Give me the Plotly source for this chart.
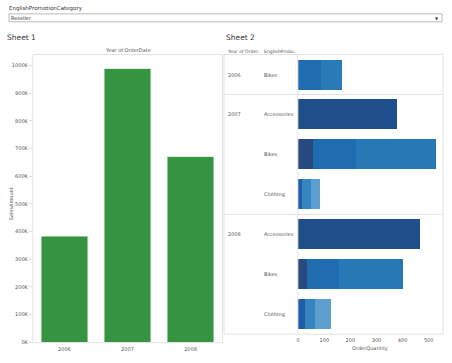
import plotly.graph_objects as go

# ---- data ----
years = ["2006", "2007", "2008"]
sales_amount = [383000, 989000, 671000]
sales_ticks = [0, 100000, 200000, 300000, 400000, 500000, 600000, 700000, 800000, 900000, 1000000]
sales_tick_labels = ["0K", "100K", "200K", "300K", "400K", "500K", "600K", "700K", "800K", "900K", "1000K"]

row_years = ["2006", "2007", "", "", "2008", "", ""]
row_categories = ["Bikes", "Accessories", "Bikes", "Clothing", "Accessories", "Bikes", "Clothing"]
qty_seg1 = [86, 379, 58, 15, 468, 35, 25]
qty_seg2 = [83, 0, 165, 34, 0, 123, 38]
qty_seg3 = [0, 0, 306, 34, 0, 242, 63]
qty_ticks = [0, 100, 200, 300, 400, 500]

# ---- styles ----
W, H = 452, 363
def px(x): return x / W
def py(y): return 1 - y / H

seg_colors = [
    ["#1f6db0", "#1f4f8a", "#27497e", "#1f5ea6", "#1f4f8a", "#27497e", "#1f5ea6"],
    ["#2a7ab8", "#1f4f8a", "#1f6db0", "#3585c1", "#1f4f8a", "#1f6db0", "#3585c1"],
    ["#2a7ab8", "#1f4f8a", "#2878b6", "#5c9fd0", "#1f4f8a", "#2878b6", "#5c9fd0"],
]
small = dict(family="DejaVu Sans", size=5, color="#555555")
rows = list(range(len(row_categories)))

fig = go.Figure()

fig.add_trace(go.Bar(
    x=years, y=sales_amount, xaxis="x", yaxis="y",
    marker=dict(color="#34943f", line=dict(color="#c8e6c9", width=0.6)),
    hoverinfo="x+y", showlegend=False,
))

for segs, cols in zip([qty_seg1, qty_seg2, qty_seg3], seg_colors):
    fig.add_trace(go.Bar(
        x=segs, y=rows, orientation="h", xaxis="x2", yaxis="y2",
        width=0.75, marker=dict(color=cols, line=dict(width=0)),
        showlegend=False,
    ))

fig.update_layout(
    width=W, height=H, margin=dict(l=0, r=0, t=0, b=0),
    paper_bgcolor="white", plot_bgcolor="white", barmode="stack",
    bargap=0.26,
    font=small,
    xaxis=dict(domain=[px(31), px(221)], anchor="y", showgrid=False, zeroline=False,
               showline=False, ticks="", tickfont=small, ticklabelstandoff=3),
    yaxis=dict(domain=[py(345), py(55)], anchor="x", range=[0, 1040000],
               tickvals=sales_ticks, ticktext=sales_tick_labels, showgrid=False,
               zeroline=False, showline=False, ticks="outside", ticklen=3,
               tickcolor="#dddddd", tickfont=small),
    xaxis2=dict(domain=[px(297.5), px(443)], anchor="y2", range=[0, 555],
                tickvals=qty_ticks, showgrid=False, zeroline=False, showline=False,
                ticks="", tickfont=small, ticklabelstandoff=2),
    yaxis2=dict(domain=[py(337), py(55)], anchor="x2", range=[6.5, -0.5],
                showticklabels=False, showgrid=False, zeroline=False, showline=False),
)

shapes = []
line_c = "#e3e3e3"
# left sheet frame
shapes.append(dict(type="rect", xref="paper", yref="paper", x0=px(31), x1=px(221.5), y0=py(345.5), y1=py(55),
                   line=dict(color=line_c, width=1)))
# right sheet frame
shapes.append(dict(type="rect", xref="paper", yref="paper", x0=px(223), x1=px(443), y0=py(337), y1=py(55),
                   line=dict(color=line_c, width=1)))
shapes.append(dict(type="line", xref="paper", yref="paper", x0=px(297), x1=px(297), y0=py(337), y1=py(55),
                   line=dict(color=line_c, width=1)))
for yb in [0.5, 3.5]:
    shapes.append(dict(type="line", xref="paper", yref="y2", x0=px(223), x1=px(443), y0=yb, y1=yb,
                       line=dict(color=line_c, width=1)))
# dropdown
shapes.append(dict(type="rect", xref="paper", yref="paper", x0=px(7), x1=px(442), y0=py(22), y1=py(14),
                   line=dict(color="#bbbbbb", width=1), fillcolor="white"))
fig.update_layout(shapes=shapes)

ann = []
def text(x, y, t, size=5, color="#555555", xanchor="left", **kw):
    ann.append(dict(xref="paper", yref="paper", x=px(x), y=py(y), text=t, showarrow=False,
                    xanchor=xanchor, yanchor="middle",
                    font=dict(family="DejaVu Sans", size=size, color=color), **kw))

text(5, 8.5, "EnglishPromotionCategory", size=5.5, color="#333333")
text(7, 18, "Reseller", size=5, color="#333333")
text(437, 18.5, "▼", size=4, color="#333333", xanchor="center")
text(3, 37.5, "Sheet 1", size=7.5, color="#333333")
text(223, 37.5, "Sheet 2", size=7.5, color="#333333")
text(127, 50, "Year of OrderDate", size=5, xanchor="center")
text(224, 52, "Year of Order..", size=4.6)
text(261, 52, "EnglishProdu..", size=4.6)
text(370, 351.5, "OrderQuantity", size=5, xanchor="center")
ann.append(dict(xref="paper", yref="paper", x=px(9), y=py(205), text="SalesAmount", showarrow=False,
                textangle=-90, xanchor="center", yanchor="middle",
                font=dict(family="DejaVu Sans", size=5, color="#555555")))
for i, (yr, cat) in enumerate(zip(row_years, row_categories)):
    if yr:
        ann.append(dict(xref="paper", yref="y2", x=px(225), y=i, text=yr, showarrow=False,
                        xanchor="left", yanchor="middle",
                        font=dict(family="DejaVu Sans", size=5, color="#555555")))
    ann.append(dict(xref="paper", yref="y2", x=px(261), y=i, text=cat, showarrow=False,
                    xanchor="left", yanchor="middle",
                    font=dict(family="DejaVu Sans", size=5, color="#555555")))
fig.update_layout(annotations=ann)

fig.write_html("out.html", config={"displayModeBar": False},
               post_script="document.body.style.margin='0';document.body.style.overflow='hidden';")
